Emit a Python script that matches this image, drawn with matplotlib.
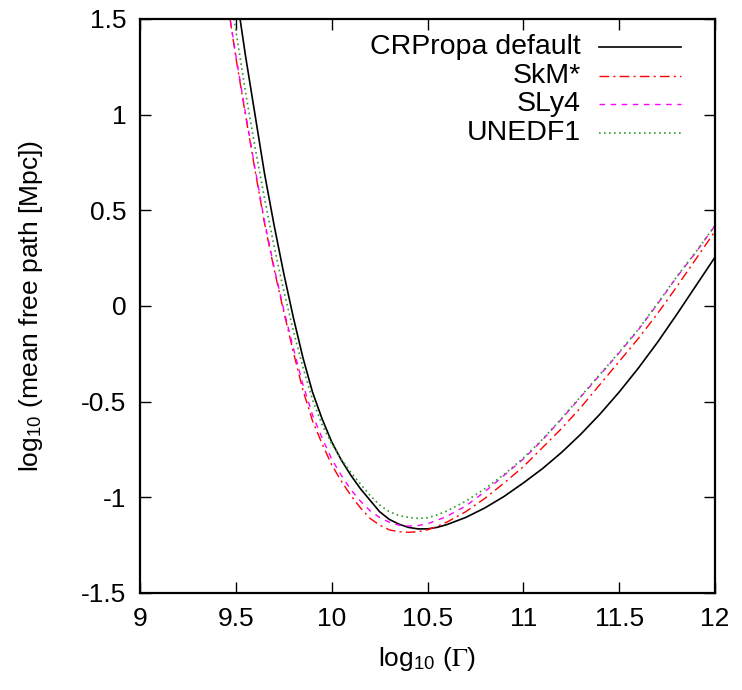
import matplotlib
matplotlib.use("Agg")
import matplotlib.pyplot as plt

plt.rcParams['font.family'] = ['Liberation Sans', 'DejaVu Sans']
plt.rcParams['mathtext.fontset'] = 'stix'

# log10(Gamma) grid
lg = [9.45, 9.5, 9.55, 9.6, 9.65, 9.7, 9.75, 9.8, 9.85, 9.9, 9.95, 10.0,
      10.05, 10.1, 10.15, 10.2, 10.25, 10.3, 10.35, 10.4, 10.45, 10.5, 10.55, 10.6,
      10.7, 10.8, 10.9, 11.0, 11.1, 11.2, 11.3, 11.4, 11.5, 11.6, 11.7, 11.8, 11.9, 12.0]

# log10(mean free path [Mpc])
crpropa = [2.00, 1.65, 1.31, 1.00, 0.69, 0.42, 0.17, -0.06, -0.27, -0.45, -0.59, -0.71,
           -0.805, -0.885, -0.955, -1.015, -1.075, -1.115, -1.14, -1.157, -1.165, -1.165, -1.157, -1.143,
           -1.105, -1.055, -0.995, -0.925, -0.85, -0.765, -0.67, -0.565, -0.45, -0.325, -0.19, -0.045, 0.105, 0.255]
skm = [1.63, 1.30, 1.00, 0.71, 0.43, 0.19, -0.03, -0.24, -0.44, -0.60, -0.72, -0.83,
       -0.915, -0.99, -1.055, -1.11, -1.145, -1.17, -1.18, -1.183, -1.18, -1.17, -1.152, -1.13,
       -1.075, -1.005, -0.925, -0.84, -0.74, -0.64, -0.53, -0.41, -0.29, -0.17, -0.04, 0.10, 0.245, 0.39]
sly4 = [1.63, 1.31, 1.01, 0.72, 0.44, 0.20, -0.02, -0.22, -0.41, -0.57, -0.69, -0.80,
        -0.885, -0.96, -1.02, -1.07, -1.105, -1.13, -1.145, -1.15, -1.148, -1.138, -1.12, -1.10,
        -1.045, -0.97, -0.885, -0.80, -0.70, -0.59, -0.475, -0.36, -0.245, -0.125, 0.01, 0.15, 0.28, 0.42]
unedf1 = [1.78, 1.44, 1.12, 0.83, 0.56, 0.31, 0.08, -0.13, -0.32, -0.49, -0.62, -0.72,
          -0.80, -0.87, -0.93, -0.99, -1.04, -1.075, -1.095, -1.105, -1.11, -1.107, -1.092, -1.072,
          -1.02, -0.955, -0.88, -0.795, -0.697, -0.587, -0.472, -0.357, -0.242, -0.122, 0.013, 0.153, 0.283, 0.42]

labels = ["CRPropa default", "SkM*", "SLy4", "UNEDF1"]
series = [crpropa, skm, sly4, unedf1]
colors = ["black", "#ff0000", "#ff00ff", "#2e9b2e"]
styles = ["-", (0, (7, 3, 1.5, 3)), (0, (4, 4)), (0, (1, 2))]
widths = [1.2, 1.0, 1.0, 1.2]

fig = plt.figure(figsize=(7.42, 6.9), dpi=100)
ax = fig.add_axes([0.1887, 0.1406, 0.7749, 0.8319])

for y, c, ls, lw in zip(series, colors, styles, widths):
    ax.plot(lg, y, color=c, linestyle=ls, linewidth=lw)

ax.set_xlim(9, 12)
ax.set_ylim(-1.5, 1.5)
ax.set_xticks([9, 9.5, 10, 10.5, 11, 11.5, 12])
ax.set_xticklabels(["9", "9.5", "10", "10.5", "11", "11.5", "12"])
ax.set_yticks([-1.5, -1, -0.5, 0, 0.5, 1, 1.5])
ax.set_yticklabels(["-1.5", "-1", "-0.5", "0", "0.5", "1", "1.5"])
ax.tick_params(direction='in', length=8, width=1, top=True, right=True,
               labelsize=19, pad=10)
for s in ax.spines.values():
    s.set_linewidth(1.6)

ax.set_xlabel(r"log$_{\mathdefault{10}}$ ($\Gamma$)", fontsize=19, labelpad=10)
ax.set_ylabel(r"log$_{\mathdefault{10}}$ (mean free path [Mpc])", fontsize=19, labelpad=26)

# gnuplot-style key: text right-aligned, sample line on the right
for i, (lab, c, ls, lw) in enumerate(zip(labels, colors, styles, widths)):
    yy = 0.9507 - i * 0.0495
    ax.plot([0.798, 0.941], [yy, yy], transform=ax.transAxes, color=c,
            linestyle=ls, linewidth=lw)
    ax.text(0.767, yy, lab, transform=ax.transAxes, ha='right', va='center',
            fontsize=20.5)

fig.savefig("out.png", dpi=100)
